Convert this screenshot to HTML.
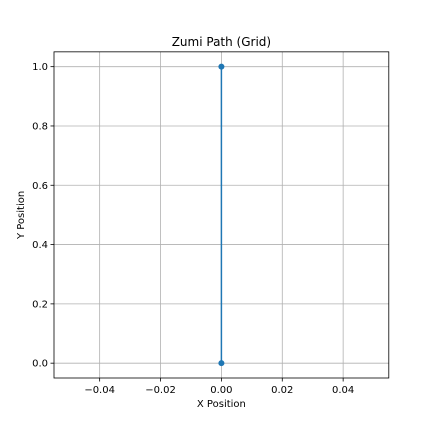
<!DOCTYPE html>
<html><head><meta charset="utf-8"><style>
html,body{margin:0;padding:0;background:#fff;}
svg{display:block;font-family:"DejaVu Sans","Liberation Sans",sans-serif;}
</style></head><body>
<svg id="chart" width="432" height="432" viewBox="0 0 432 432"></svg>
<script>
const xTicks = [-0.04, -0.02, 0.00, 0.02, 0.04];
const xTickLabels = ["\u22120.04", "\u22120.02", "0.00", "0.02", "0.04"];
const yTicks = [0.0, 0.2, 0.4, 0.6, 0.8, 1.0];
const yTickLabels = ["0.0", "0.2", "0.4", "0.6", "0.8", "1.0"];
const pathX = [0, 0];
const pathY = [0, 1];

const L = 54, R = 388.8, T = 51.84, B = 378;
const xMin = -0.055, xMax = 0.055, yMin = -0.05, yMax = 1.05;
const sx = v => L + (v - xMin) / (xMax - xMin) * (R - L);
const sy = v => B - (v - yMin) / (yMax - yMin) * (B - T);
const NS = "http://www.w3.org/2000/svg";
const svg = document.getElementById('chart');
function mk(tag, attrs, parent) {
  const e = document.createElementNS(NS, tag);
  for (const k in attrs) e.setAttribute(k, attrs[k]);
  (parent || svg).appendChild(e);
  return e;
}
const grid = mk('g', {});


xTicks.forEach((v, i) => {
  const x = sx(v);
  const g = mk('line', {x1: x, x2: x, y1: T, y2: B, stroke: '#b0b0b0', 'stroke-width': 0.8}, grid);
  
  
  mk('line', {x1: x, x2: x, y1: B, y2: B + 3.5, stroke: '#000', 'stroke-width': 0.8});
  const t = mk('text', {x: x, y: B + 15, 'font-size': 10, 'text-anchor': 'middle'});
  t.textContent = xTickLabels[i];
  
  
});
yTicks.forEach((v, i) => {
  const y = sy(v);
  const g = mk('line', {x1: L, x2: R, y1: y, y2: y, stroke: '#b0b0b0', 'stroke-width': 0.8}, grid);
  
  
  mk('line', {x1: L - 3.5, x2: L, y1: y, y2: y, stroke: '#000', 'stroke-width': 0.8});
  const t = mk('text', {x: L - 6, y: y + 3.5, 'font-size': 10, 'text-anchor': 'end'});
  t.textContent = yTickLabels[i];
  
  
});
const pts = pathX.map((v, i) => sx(v) + ',' + sy(pathY[i])).join(' ');
const line = mk('polyline', {points: pts, fill: 'none', stroke: '#1f77b4', 'stroke-width': 1.5});


pathX.forEach((v, i) => {
  const c = mk('circle', {cx: sx(v), cy: sy(pathY[i]), r: 3, fill: '#1f77b4'});
  
  
});
const frame = mk('rect', {x: L, y: T, width: R - L, height: B - T, fill: 'none', stroke: '#000', 'stroke-width': 0.8});


const title = mk('text', {x: (L + R) / 2, y: T - 6, 'font-size': 12, 'text-anchor': 'middle'});
title.textContent = 'Zumi Path (Grid)';


const xl = mk('text', {x: (L + R) / 2, y: B + 29, 'font-size': 10, 'text-anchor': 'middle'});
xl.textContent = 'X Position';


const yl = mk('text', {x: 0, y: 0, 'font-size': 10, 'text-anchor': 'middle', transform: 'translate(24,' + ((T + B) / 2) + ') rotate(-90)'});
yl.textContent = 'Y Position';


</script>
</body></html>
